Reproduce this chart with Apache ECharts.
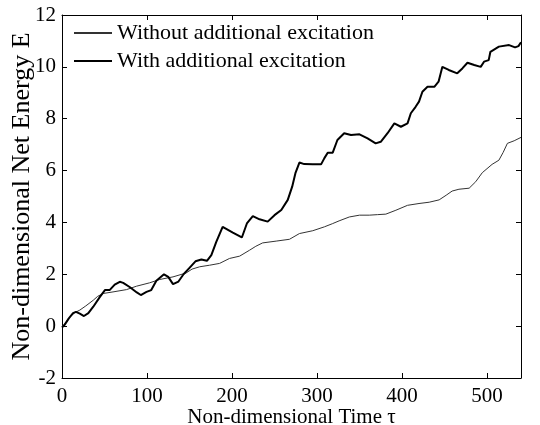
<!DOCTYPE html>
<html>
<head>
<meta charset="utf-8">
<script src="https://cdn.jsdelivr.net/npm/echarts@6/dist/echarts.min.js"></script>
<style>html,body{margin:0;padding:0;background:#fff}#c{width:540px;height:425px}</style>
</head>
<body>
<div id="c"></div>
<script>
var seriesNames = ['Without additional excitation', 'With additional excitation'];
var xTicks = [0, 100, 200, 300, 400, 500];
var yTicks = [-2, 0, 2, 4, 6, 8, 10, 12];

var withoutExc = [[0,0],[4.7,0.12],[9.4,0.36],[15,0.52],[21,0.62],[28,0.78],[36.8,1.0],[42,1.15],[48.5,1.26],[60,1.32],[76,1.41],[87.6,1.54],[103,1.67],[115,1.8],[130.6,1.9],[146,2.05],[153,2.2],[162,2.29],[173.7,2.35],[185.4,2.42],[197,2.61],[209,2.7],[220.7,2.93],[228,3.08],[236,3.21],[252,3.28],[267.6,3.35],[279.3,3.57],[295,3.68],[308.7,3.83],[318,3.95],[326,4.06],[338,4.21],[350,4.28],[361.5,4.28],[371,4.3],[381,4.32],[392.8,4.47],[406.5,4.66],[420,4.73],[432,4.78],[443.7,4.87],[452,5.05],[459,5.21],[467,5.28],[479,5.32],[486.7,5.57],[494.5,5.92],[506,6.24],[514,6.4],[519,6.7],[524,7.05],[532,7.15],[540,7.28]];

var withExc = [[0,-0.05],[3,0.05],[8,0.3],[13,0.5],[16.4,0.55],[21,0.48],[25.8,0.39],[31,0.5],[36.8,0.75],[44.6,1.13],[50.5,1.39],[56,1.39],[62,1.6],[68,1.71],[72,1.67],[80,1.5],[88,1.3],[92.7,1.2],[99.4,1.32],[105,1.39],[111,1.75],[120,2.0],[125,1.9],[130.6,1.62],[137,1.72],[143,2.0],[150,2.25],[157,2.5],[164,2.57],[170.5,2.52],[175.7,2.74],[181.5,3.25],[189,3.83],[201,3.61],[211.6,3.42],[217.5,3.96],[224.5,4.24],[232.4,4.12],[242,4.03],[250,4.28],[258,4.48],[265.6,4.87],[270.8,5.38],[274.6,5.9],[279.3,6.31],[285,6.25],[295,6.24],[304.8,6.24],[308.7,6.48],[312.6,6.69],[318.5,6.69],[324,7.18],[332,7.44],[340,7.37],[350,7.4],[359.5,7.24],[369,7.05],[375,7.11],[383,7.44],[391,7.82],[398.7,7.69],[406.5,7.82],[410.4,8.21],[416,8.46],[420,8.66],[424,9.04],[430,9.23],[438,9.23],[443,9.43],[447.5,10.0],[455,9.88],[465,9.75],[471,9.94],[477,10.16],[485,10.07],[492.6,10.0],[496.5,10.2],[502,10.26],[504,10.58],[514,10.78],[526,10.84],[533,10.75],[537,10.8],[540,10.95]];

var FONT = 'Liberation Serif';
var chart = echarts.init(document.getElementById('c'), null, {renderer: 'canvas'});
var axisLine = {show: true, onZero: false, lineStyle: {color: '#000', width: 1}};
var tick = {show: true, inside: true, length: 5, lineStyle: {color: '#000'}};
chart.setOption({
  animation: false,
  backgroundColor: '#fff',
  grid: {left: 62, right: 19, top: 15, bottom: 47, containLabel: false, outerBoundsMode: 'none'},
  legend: {
    data: seriesNames,
    orient: 'vertical',
    left: 73, top: 22, padding: 0,
    itemWidth: 38, itemHeight: 12, itemGap: 6,
    itemStyle: {opacity: 0},
    textStyle: {fontFamily: FONT, fontSize: 22, color: '#000'},
    inactiveColor: '#000'
  },
  xAxis: [{
    type: 'value', min: 0, max: 540, interval: 100,
    name: 'Non-dimensional Time \u03c4', nameLocation: 'middle', nameGap: 29, nameMoveOverlap: false,
    nameTextStyle: {fontFamily: FONT, fontSize: 21, color: '#000'},
    axisLine: axisLine, axisTick: tick, splitLine: {show: false},
    axisLabel: {fontFamily: FONT, fontSize: 21, color: '#000', margin: 8, showMaxLabel: false,
      formatter: function (v) { return xTicks.indexOf(v) >= 0 ? String(v) : ''; }}
  }, {
    type: 'value', min: 0, max: 540, interval: 100, position: 'top',
    axisLine: axisLine, axisTick: tick, splitLine: {show: false}, axisLabel: {show: false}
  }],
  yAxis: [{
    type: 'value', min: -2, max: 12, interval: 2,
    name: 'Non-dimensional Net Energy E', nameLocation: 'middle', nameGap: 27, nameMoveOverlap: false,
    nameTextStyle: {fontFamily: FONT, fontSize: 26, color: '#000'},
    axisLine: axisLine, axisTick: tick, splitLine: {show: false},
    axisLabel: {fontFamily: FONT, fontSize: 21, color: '#000', margin: 6,
      formatter: function (v) { return yTicks.indexOf(v) >= 0 ? String(v) : ''; }}
  }, {
    type: 'value', min: -2, max: 12, interval: 2, position: 'right',
    axisLine: axisLine, axisTick: tick, splitLine: {show: false}, axisLabel: {show: false}
  }],
  series: [{
    name: seriesNames[0], type: 'line', data: withoutExc, symbol: 'none',
    lineStyle: {color: '#333', width: 1}, itemStyle: {color: '#333'}
  }, {
    name: seriesNames[1], type: 'line', data: withExc, symbol: 'none',
    lineStyle: {color: '#000', width: 2}, itemStyle: {color: '#000'}
  }]
});
</script>
</body>
</html>
